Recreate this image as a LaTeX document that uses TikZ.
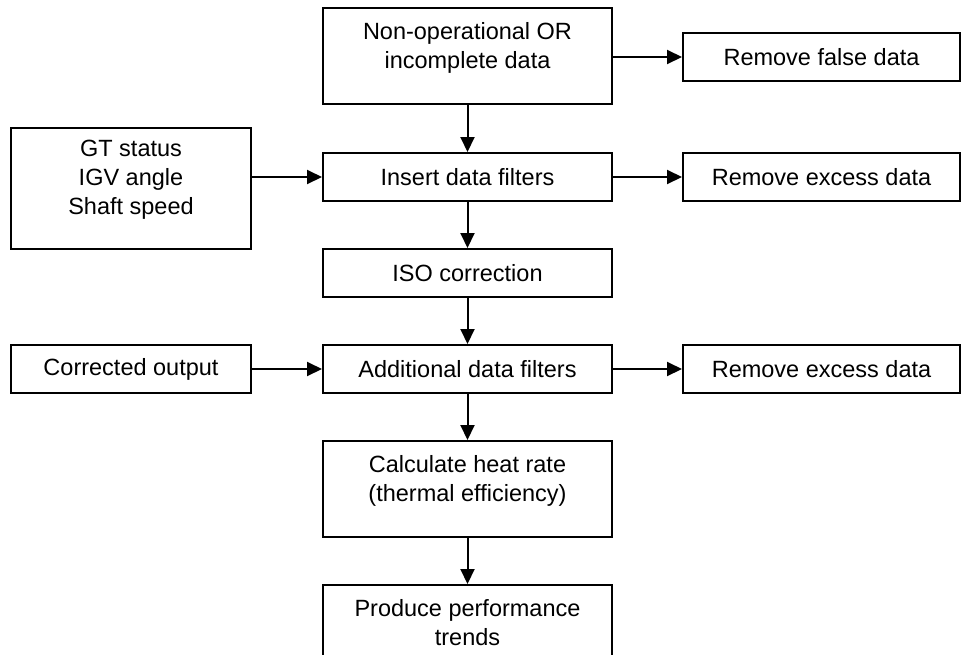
\documentclass[tikz,border=0pt]{standalone}
\usepackage{fontspec}
\setmainfont{Liberation Sans}
\usetikzlibrary{arrows.meta}

\begin{document}
\begin{tikzpicture}[
    x=1pt, y=-1pt,
    box/.style={draw, line width=2pt, inner sep=0pt, align=center,
        font=\fontsize{23.5}{29}\selectfont},
    multi/.style={text depth=22pt},
    arrow/.style={line width=2pt, -{Triangle[length=15pt,width=14pt]}}
]
\path[use as bounding box, clip] (0,0) rectangle (961,654);

% Main chain
\node[box, multi, minimum width=289pt, minimum height=96pt] (raw) at (467.5,56) {Non-operational OR\\incomplete data};
\node[box, minimum width=289pt, minimum height=48pt] (insert) at (467.5,177) {Insert data filters};
\node[box, minimum width=289pt, minimum height=48pt] (iso) at (467.5,273) {ISO correction};
\node[box, minimum width=289pt, minimum height=48pt] (additional) at (467.5,369) {Additional data filters};
\node[box, multi, minimum width=289pt, minimum height=96pt] (heatrate) at (467.5,489) {Calculate heat rate\\(thermal efficiency)};
\node[box, multi, minimum width=289pt, minimum height=96pt] (trends) at (467.5,633) {Produce performance\\trends};

% Inputs
\node[box, multi, minimum width=240pt, minimum height=121pt] (status) at (131,188.5) {GT status\\IGV angle\\Shaft speed};
\node[box, minimum width=240pt, minimum height=48pt] (corrected) at (131,369) {Corrected output};

% Removals
\node[box, minimum width=277pt, minimum height=48pt] (falsedata) at (821.5,57) {Remove false data};
\node[box, minimum width=277pt, minimum height=48pt] (excessA) at (821.5,177) {Remove excess data};
\node[box, minimum width=277pt, minimum height=48pt] (excessB) at (821.5,369) {Remove excess data};

\draw[arrow] (raw) -- (insert);
\draw[arrow] (insert) -- (iso);
\draw[arrow] (iso) -- (additional);
\draw[arrow] (additional) -- (heatrate);
\draw[arrow] (heatrate) -- (trends);

\draw[arrow] (insert.west -| status.east) -- (insert.west);
\draw[arrow] (corrected) -- (additional);

\draw[arrow] (falsedata.west -| raw.east) -- (falsedata.west);
\draw[arrow] (insert) -- (excessA);
\draw[arrow] (additional) -- (excessB);

\end{tikzpicture}
\end{document}
